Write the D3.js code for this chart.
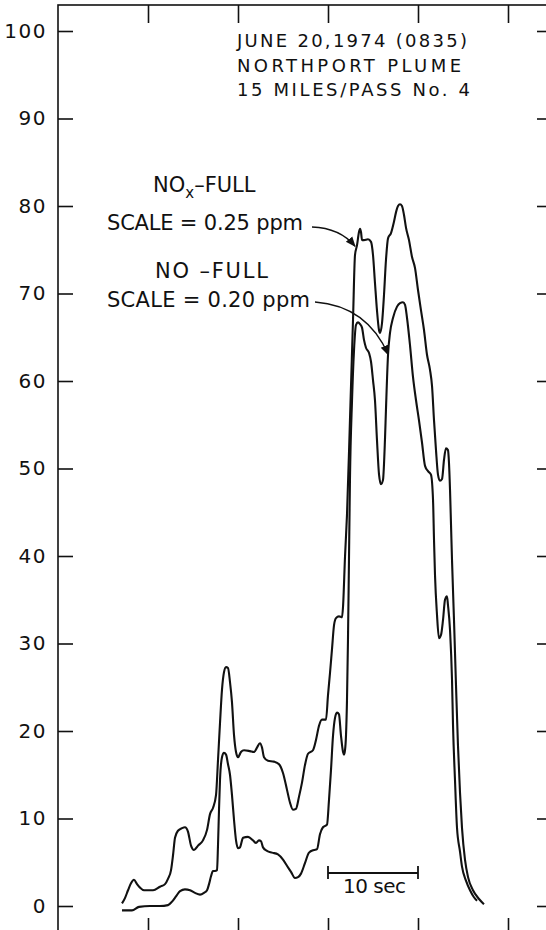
<!DOCTYPE html>
<html>
<head>
<meta charset="utf-8">
<script src="https://cdn.jsdelivr.net/npm/d3@7"></script>
<style>
  body { margin: 0; background: #fff; }
  svg { display: block; }
  text { font-family: "DejaVu Sans", sans-serif; fill: #111; }
</style>
</head>
<body>
<div id="app"></div>
<script>
// time (sec) vs percent of full scale
const noxSeries = [
  [7.11,0.3],[7.44,0.9],[7.78,1.8],[8.11,2.6],[8.44,3.0],[8.78,2.5],[9.11,2.1],[9.56,1.8],[10.56,1.8],[11.33,2.2],
  [11.89,2.5],[12.22,3.1],[12.56,4.1],[12.78,5.8],[13.0,7.8],[13.33,8.6],[13.78,8.9],[14.11,9.0],[14.44,8.5],[14.78,6.9],
  [15.11,6.4],[15.56,6.9],[16.11,7.5],[16.56,8.7],[16.89,10.5],[17.22,11.2],[17.56,12.7],[17.78,16.7],[18.0,20.9],[18.22,24.7],
  [18.44,26.7],[18.67,27.3],[18.89,27.2],[19.11,25.6],[19.33,23.3],[19.56,19.5],[19.78,17.6],[20.0,17.0],[20.33,17.6],[20.67,17.8],
  [21.33,17.7],[21.78,17.6],[22.11,18.1],[22.44,18.6],[22.67,18.1],[22.89,17.0],[23.33,16.6],[24.0,16.5],[24.56,16.2],[25.0,15.2],
  [25.44,13.3],[25.78,11.8],[26.11,11.0],[26.44,11.1],[26.78,12.5],[27.11,14.1],[27.44,16.1],[27.78,17.4],[28.33,17.8],[28.67,19.0],
  [29.0,20.6],[29.33,21.3],[29.78,21.3],[30.0,24.1],[30.22,26.6],[30.44,29.3],[30.67,32.1],[30.89,32.9],[31.22,33.1],[31.56,33.0],
  [31.67,34.2],[31.89,39.9],[32.11,44.7],[32.44,55.5],[32.78,67.0],[33.0,74.4],[33.22,75.5],[33.44,77.0],[33.56,77.4],[33.67,77.0],
  [33.78,76.1],[34.0,76.1],[34.44,76.2],[34.78,75.9],[35.0,74.4],[35.22,71.2],[35.44,68.1],[35.67,65.8],[35.78,65.5],[36.0,66.6],
  [36.22,69.8],[36.44,73.8],[36.67,76.3],[37.0,76.9],[37.33,78.2],[37.56,79.3],[37.78,80.0],[38.0,80.2],[38.22,80.0],[38.44,79.0],
  [38.67,77.5],[39.0,76.1],[39.33,74.2],[39.67,72.9],[40.0,70.4],[40.33,68.1],[40.67,65.8],[41.0,63.0],[41.33,61.3],[41.56,59.4],
  [41.78,55.5],[42.0,52.1],[42.22,49.3],[42.44,48.6],[42.67,48.8],[42.89,51.0],[43.11,52.3],[43.33,52.1],[43.44,50.7],[43.56,47.5],
  [43.67,43.5],[43.78,39.5],[44.0,32.7],[44.22,25.3],[44.44,18.4],[44.67,12.9],[44.89,8.9],[45.22,5.3],[45.56,3.3],[46.11,1.8],
  [46.78,0.8],[47.33,0.2]
];

const noSeries = [
  [7.11,-0.5],[8.22,-0.5],[9.0,-0.1],[10.22,0],[11.33,0],[12.22,0.1],[12.67,0.5],[13.11,1.1],[13.56,1.7],[14.11,1.9],
  [14.67,1.8],[15.22,1.5],[15.78,1.3],[16.22,1.5],[16.56,1.8],[16.78,2.5],[17.0,3.4],[17.22,4.0],[17.44,4.0],[17.67,4.1],
  [17.78,7.0],[17.89,11.0],[18.0,14.4],[18.22,17.0],[18.44,17.5],[18.67,17.3],[18.89,16.2],[19.11,15.0],[19.33,12.7],[19.56,9.8],
  [19.78,7.5],[20.0,6.6],[20.22,6.7],[20.56,7.8],[21.11,7.9],[21.67,7.5],[22.0,7.2],[22.33,7.5],[22.56,7.4],[22.78,6.7],
  [23.22,6.3],[23.78,6.1],[24.44,5.9],[25.0,5.3],[25.44,4.6],[25.89,3.9],[26.33,3.2],[26.67,3.3],[27.0,3.7],[27.44,4.9],
  [27.89,6.1],[28.44,6.4],[28.78,6.5],[29.11,8.2],[29.44,9.0],[29.89,9.3],[30.11,12.1],[30.33,15.5],[30.56,19.5],[30.78,21.5],
  [31.0,22.1],[31.22,21.9],[31.44,19.5],[31.67,17.6],[31.78,17.3],[31.89,17.8],[32.0,19.5],[32.11,23.5],[32.22,30.4],[32.33,39.5],
  [32.44,48.7],[32.67,57.8],[32.89,63.5],[33.11,66.4],[33.33,66.7],[33.56,66.5],[33.78,66.1],[34.0,64.7],[34.22,63.8],[34.56,63.2],
  [34.78,62.2],[35.0,60.1],[35.22,57.8],[35.44,53.3],[35.67,49.3],[35.89,48.2],[36.11,48.7],[36.33,53.3],[36.44,56.7],[36.67,63.0],
  [36.89,65.5],[37.22,67.2],[37.67,68.5],[38.0,68.9],[38.33,69.0],[38.56,68.7],[38.78,67.2],[39.11,64.1],[39.44,60.5],[39.78,57.8],
  [40.11,55.5],[40.44,53.0],[40.78,50.3],[41.11,49.7],[41.44,49.3],[41.67,46.4],[41.78,41.8],[41.89,37.8],[42.11,33.3],[42.33,30.6],
  [42.56,31.0],[42.78,32.7],[43.0,35.0],[43.22,35.4],[43.33,34.4],[43.56,31.5],[43.78,25.8],[43.89,20.7],[44.11,14.4],[44.33,9.0],
  [44.67,6.2],[44.89,4.5],[45.33,2.9],[45.78,1.8],[46.22,1.0],[46.56,0.6]
];

const yTicks = [0, 10, 20, 30, 40, 50, 60, 70, 80, 90, 100];
const xTicks = [10, 20, 30, 40, 50];
const titleLines = ['JUNE 20,1974 (0835)', 'NORTHPORT PLUME', '15 MILES/PASS No. 4'];
const scaleBar = [30, 40];          // the "10 sec" bar, in seconds
const noxArrowTip = [33.0, 75.4];   // where the NOx label points
const noArrowTip = [36.7, 63.0];    // where the NO label points

const WIDTH = 546, HEIGHT = 930;

const svg = d3.select('#app')
  .append('svg')
    .attr('width', WIDTH)
    .attr('height', HEIGHT);

const x = d3.scaleLinear().domain([0, 55]).range([58, 553]);
const y = d3.scaleLinear().domain([0, 100]).range([906, 31]);
const frameTop = 5, frameBottom = 936;

// frame
svg.append('rect')
  .attr('x', x(0)).attr('y', frameTop)
  .attr('width', x(55) - x(0)).attr('height', frameBottom - frameTop)
  .attr('fill', 'none').attr('stroke', '#111').attr('stroke-width', 1.6);

// inward ticks on all four sides
const leftAxis = svg.append('g')
  .attr('transform', `translate(${x(0)},0)`)
  .call(d3.axisLeft(y).tickValues(yTicks).tickSizeInner(-15).tickSizeOuter(0).tickPadding(11));
leftAxis.selectAll('text')
  .style('font-size', '20px')
  .attr('letter-spacing', '1.5px');

svg.append('g')
  .attr('transform', `translate(${x(55)},0)`)
  .call(d3.axisRight(y).tickValues(yTicks).tickSizeInner(-16).tickSizeOuter(0).tickFormat(''));

svg.append('g')
  .attr('transform', `translate(0,${frameTop})`)
  .call(d3.axisTop(x).tickValues(xTicks).tickSizeInner(-18).tickSizeOuter(0).tickFormat(''));

svg.append('g')
  .attr('transform', `translate(0,${frameBottom})`)
  .call(d3.axisBottom(x).tickValues(xTicks).tickSizeInner(-18).tickSizeOuter(0).tickFormat(''));

svg.selectAll('.domain').remove();
svg.selectAll('.tick line').attr('stroke', '#111').attr('stroke-width', 1.6);

// the two traces
const line = d3.line()
  .x(d => x(d[0]))
  .y(d => y(d[1]))
  .curve(d3.curveMonotoneX);

svg.selectAll('.trace')
  .data([noxSeries, noSeries])
  .enter()
  .append('path')
    .attr('class', 'trace')
    .attr('d', line)
    .attr('fill', 'none')
    .attr('stroke', '#111')
    .attr('stroke-width', 2.1)
    .attr('stroke-linejoin', 'round');

// title block
svg.selectAll('.title')
  .data(titleLines)
  .enter()
  .append('text')
    .attr('x', 237)
    .attr('y', (d, i) => 47 + i * 24.5)
    .attr('textLength', (d, i) => [230, 224, 233][i])
    .attr('lengthAdjust', 'spacing')
    .style('font-size', '18px')
    .text(d => d);

// labels with arrows
svg.append('defs').append('marker')
  .attr('id', 'head')
  .attr('viewBox', '0 0 10 10')
  .attr('refX', 9).attr('refY', 5)
  .attr('markerWidth', 8).attr('markerHeight', 8)
  .attr('orient', 'auto')
  .append('path')
    .attr('d', 'M0,1L10,5L0,9Z')
    .attr('fill', '#111');

const nox = svg.append('text')
  .attr('x', 153).attr('y', 192)
  .style('font-size', '21px');
nox.append('tspan').text('NO');
nox.append('tspan').attr('dy', 6).style('font-size', '15px').text('x');
nox.append('tspan').attr('dy', -6).text('\u2013FULL');

svg.append('text')
  .attr('x', 107).attr('y', 230)
  .attr('textLength', 196).attr('lengthAdjust', 'spacing')
  .style('font-size', '21px')
  .text('SCALE = 0.25 ppm');

svg.append('text')
  .attr('x', 155).attr('y', 278)
  .attr('textLength', 113).attr('lengthAdjust', 'spacing')
  .style('font-size', '21px')
  .text('NO \u2013FULL');

svg.append('text')
  .attr('x', 107).attr('y', 307)
  .attr('textLength', 203).attr('lengthAdjust', 'spacing')
  .style('font-size', '21px')
  .text('SCALE = 0.20 ppm');

const arrow = (sx, sy, cx, cy, tip) =>
  svg.append('path')
    .attr('d', `M${sx},${sy}Q${cx},${cy} ${x(tip[0])},${y(tip[1])}`)
    .attr('fill', 'none')
    .attr('stroke', '#111')
    .attr('stroke-width', 1.3)
    .attr('marker-end', 'url(#head)');

arrow(312, 227, 340, 228, noxArrowTip);
arrow(315, 302, 367, 306, noArrowTip);

// 10 sec bar
const barY = 873;
svg.append('line')
  .attr('x1', x(scaleBar[0])).attr('x2', x(scaleBar[1]))
  .attr('y1', barY).attr('y2', barY)
  .attr('stroke', '#111').attr('stroke-width', 1.8);
svg.selectAll('.cap')
  .data(scaleBar)
  .enter()
  .append('line')
    .attr('x1', d => x(d)).attr('x2', d => x(d))
    .attr('y1', barY - 7).attr('y2', barY + 6)
    .attr('stroke', '#111').attr('stroke-width', 1.8);
svg.append('text')
  .attr('x', 343).attr('y', 893)
  .attr('textLength', 63).attr('lengthAdjust', 'spacing')
  .style('font-size', '20px')
  .text('10 sec');
</script>
</body>
</html>
